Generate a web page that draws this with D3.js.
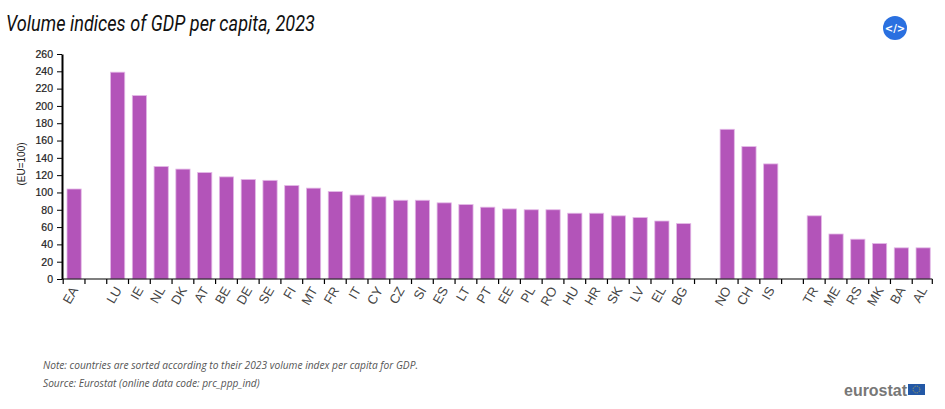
<!DOCTYPE html>
<html>
<head>
<meta charset="utf-8">
<title>Volume indices of GDP per capita, 2023</title>
<script src="https://d3js.org/d3.v7.min.js"></script>
<style>
html, body { margin: 0; padding: 0; background: #fff; }
svg { display: block; }
.x-axis text { font: 13px "Liberation Sans", Arial, sans-serif; fill: #444; }
.y-axis text { font: 10.5px "Liberation Sans", Arial, sans-serif; fill: #222; stroke: #222; stroke-width: 0.2px; }
.note { font: italic 10.2px "Open Sans", sans-serif; fill: #555; }
</style>
</head>
<body>
<svg width="945" height="409"></svg>
<script>
// blanks are the gaps between country groups
const categories = ["EA", "gap1", "LU", "IE", "NL", "DK", "AT", "BE", "DE", "SE", "FI", "MT", "FR", "IT", "CY", "CZ", "SI", "ES", "LT", "PT", "EE", "PL", "RO", "HU", "HR", "SK", "LV", "EL", "BG", "gap2", "NO", "CH", "IS", "gap3", "TR", "ME", "RS", "MK", "BA", "AL"];
const values = [104, null, 239, 212, 130, 127, 123, 118, 115, 114, 108, 105, 101, 97, 95, 91, 91, 88, 86, 83, 81, 80, 80, 76, 76, 73, 71, 67, 64, null, 173, 153, 133, null, 73, 52, 46, 41, 36, 36];
const yTicks = [0, 20, 40, 60, 80, 100, 120, 140, 160, 180, 200, 220, 240, 260];

const svg = d3.select("svg");
const x = d3.scaleBand().domain(categories).range([63.2, 934]).paddingInner(0).paddingOuter(0);
const y = d3.scaleLinear().domain([0, 260]).range([279, 54]);

// bars
svg.append("g").selectAll("rect")
  .data(categories.map((c, i) => ({c: c, v: values[i]})).filter(d => d.v !== null))
  .enter().append("rect")
  .attr("x", d => x(d.c) + 3.8)
  .attr("width", 14.2)
  .attr("y", d => y(d.v))
  .attr("height", d => y(0) - y(d.v))
  .attr("fill", "#b354b9")
  .attr("stroke", "#e3b8e6")
  .attr("stroke-width", 0.8);

// y axis
const yAxis = svg.append("g").attr("class", "y-axis").attr("transform", "translate(62,0)")
  .call(d3.axisLeft(y).tickValues(yTicks).tickSize(5).tickPadding(4).tickSizeOuter(0));
yAxis.select(".domain").attr("stroke", "#000").attr("stroke-width", 2);
yAxis.selectAll(".tick line").attr("stroke", "#000");

// x axis, ticks sit on the band edges
const xAxis = svg.append("g").attr("class", "x-axis").attr("transform", "translate(0,279)")
  .call(d3.axisBottom(x).tickSize(5).tickSizeOuter(0).tickFormat(d => d.startsWith("gap") ? "" : d));
xAxis.select(".domain").attr("d", "M62,0H932.3").attr("stroke", "#000").attr("stroke-width", 1.2);
xAxis.selectAll(".tick line")
  .attr("x1", -x.step() / 2).attr("x2", -x.step() / 2)
  .attr("stroke", "#000").attr("stroke-width", 1.2);
xAxis.append("line").attr("x1", 932.3).attr("x2", 932.3).attr("y1", 0).attr("y2", 5)
  .attr("stroke", "#000").attr("stroke-width", 1.2);
xAxis.selectAll(".tick text")
  .attr("text-anchor", "end")
  .attr("x", 0).attr("y", 0).attr("dy", 0)
  .attr("transform", "translate(1,9) rotate(-60) translate(0,4)");

// y axis title
svg.append("text")
  .attr("transform", "translate(25,164) rotate(-90)")
  .attr("text-anchor", "middle")
  .style("font", "10px 'Liberation Sans', Arial, sans-serif")
  .style("fill", "#222")
  .text("(EU=100)");

// title
svg.append("text")
  .attr("x", 6).attr("y", 31)
  .attr("textLength", 309).attr("lengthAdjust", "spacingAndGlyphs")
  .style("font", "italic 22px Roboto, sans-serif")
  .style("fill", "#111")
  .text("Volume indices of GDP per capita, 2023");

// embed button
svg.append("circle").attr("cx", 895).attr("cy", 28).attr("r", 12).attr("fill", "#2a70e0");
svg.append("text").attr("x", 895).attr("y", 32).attr("text-anchor", "middle")
  .style("font", "bold 10px 'DejaVu Sans', sans-serif").style("fill", "#fff").text("</>");

// notes
svg.append("text").attr("class", "note").attr("x", 43).attr("y", 369)
  .text("Note: countries are sorted according to their 2023 volume index per capita for GDP.");
svg.append("text").attr("class", "note").attr("x", 43).attr("y", 387)
  .text("Source: Eurostat (online data code: prc_ppp_ind)");

// logo
svg.append("text").attr("x", 844).attr("y", 395.5)
  .style("font", "bold 16px 'Liberation Sans', sans-serif").style("fill", "#777")
  .attr("textLength", 63).attr("lengthAdjust", "spacingAndGlyphs")
  .text("eurostat");
svg.append("rect").attr("x", 908).attr("y", 384).attr("width", 17).attr("height", 11).attr("fill", "#2358a6");
svg.append("circle").attr("cx", 916.5).attr("cy", 389.5).attr("r", 3.4)
  .attr("fill", "none").attr("stroke", "#c9b44a").attr("stroke-width", 0.8).attr("stroke-dasharray", "0.9 0.9");
</script>
</body>
</html>
